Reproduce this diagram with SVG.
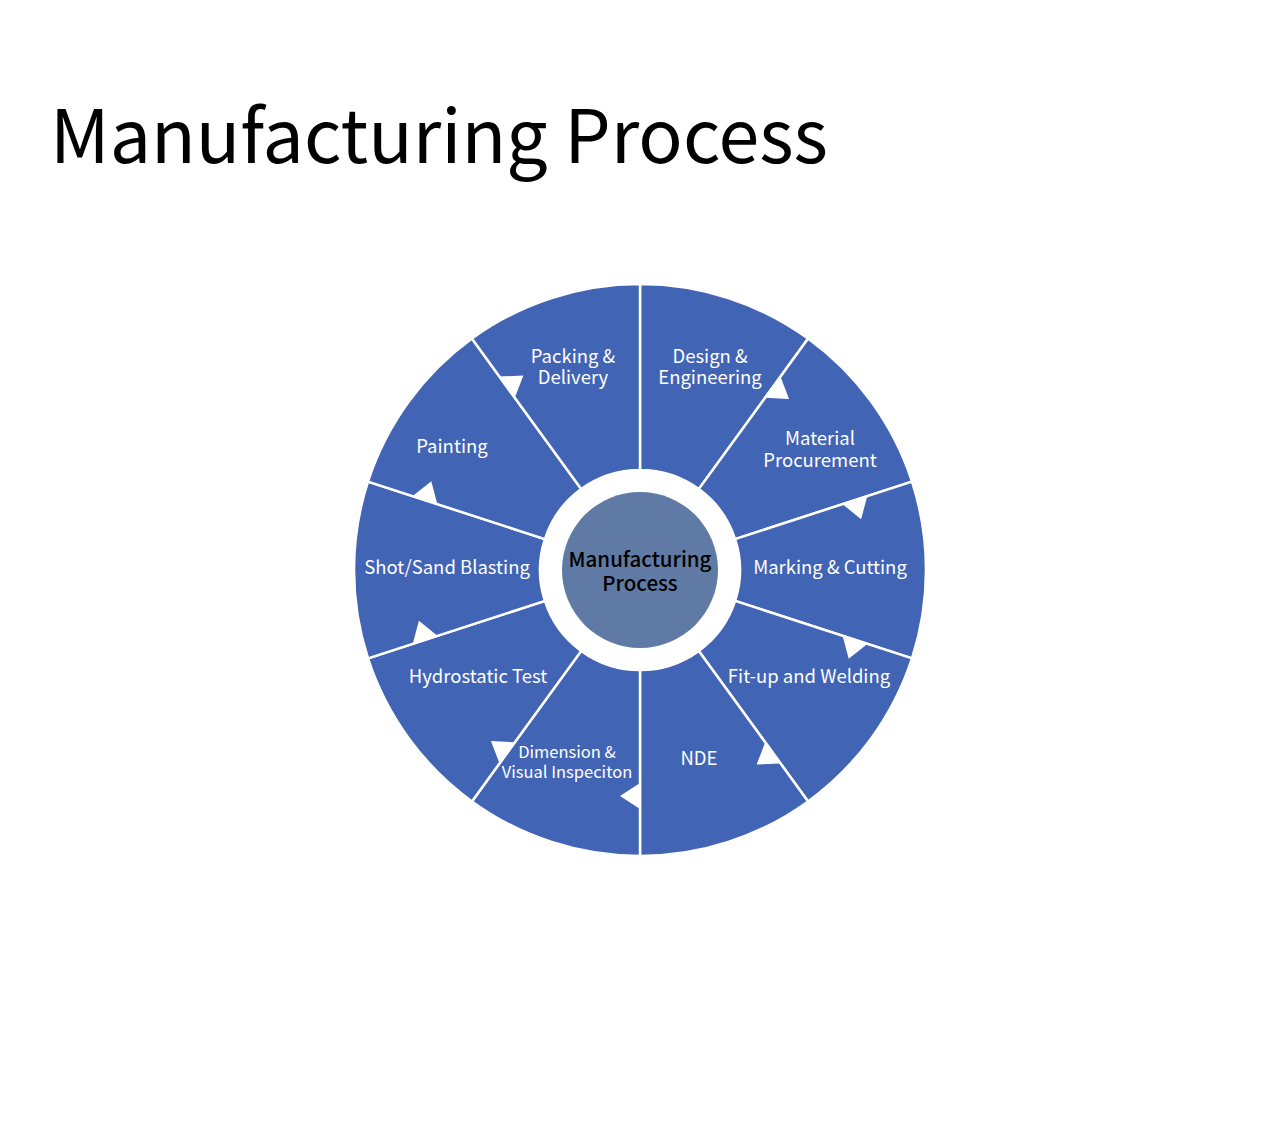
<svg xmlns="http://www.w3.org/2000/svg" width="1280" height="1133" viewBox="0 0 1280 1133">
<style>
.seg{fill:#4264b4;stroke:#ffffff;stroke-width:2.5;stroke-linejoin:miter}
.lbl{font-family:"Noto Sans CJK KR","Noto Sans",sans-serif;font-size:18.5px;fill:#ffffff;text-anchor:middle}
.sm{font-size:16.5px}
.arr{fill:#ffffff}
.title{font-family:"Noto Sans CJK KR","Noto Sans",sans-serif;font-size:74px;fill:#000000}
.ctr{font-family:"Noto Sans CJK KR","Noto Sans",sans-serif;font-size:20.5px;font-weight:500;fill:#000000;text-anchor:middle}
</style>
<rect width="1280" height="1133" fill="#ffffff"/>
<text class="title" x="50" y="163" textLength="778" lengthAdjust="spacingAndGlyphs">Manufacturing Process</text>
<g id="seg-design">
<path class="seg" d="M640,284 A286,286 0 0 1 808.1,338.6 L698.8,489.1 A100,100 0 0 0 640,470 Z"/>
<text class="lbl" x="710" y="363">Design &amp;</text>
<text class="lbl" x="710" y="384">Engineering</text>
</g>
<g id="seg-material">
<path class="seg" d="M808.1,338.6 A286,286 0 0 1 912,481.6 L735.1,539.1 A100,100 0 0 0 698.8,489.1 Z"/>
<text class="lbl" x="820" y="445">Material</text>
<text class="lbl" x="820" y="467">Procurement</text>
</g>
<g id="seg-marking">
<path class="seg" d="M912,481.6 A286,286 0 0 1 912,658.4 L735.1,600.9 A100,100 0 0 0 735.1,539.1 Z"/>
<text class="lbl" x="830" y="574">Marking &amp; Cutting</text>
</g>
<g id="seg-fitup">
<path class="seg" d="M912,658.4 A286,286 0 0 1 808.1,801.4 L698.8,650.9 A100,100 0 0 0 735.1,600.9 Z"/>
<text class="lbl" x="809" y="683">Fit-up and Welding</text>
</g>
<g id="seg-nde">
<path class="seg" d="M808.1,801.4 A286,286 0 0 1 640,856 L640,670 A100,100 0 0 0 698.8,650.9 Z"/>
<text class="lbl" x="699" y="765">NDE</text>
</g>
<g id="seg-dimension">
<path class="seg" d="M640,856 A286,286 0 0 1 471.9,801.4 L581.2,650.9 A100,100 0 0 0 640,670 Z"/>
<text class="lbl sm" x="567" y="758">Dimension &amp;</text>
<text class="lbl sm" x="567" y="778">Visual Inspeciton</text>
</g>
<g id="seg-hydro">
<path class="seg" d="M471.9,801.4 A286,286 0 0 1 368,658.4 L544.9,600.9 A100,100 0 0 0 581.2,650.9 Z"/>
<text class="lbl" x="478" y="683">Hydrostatic Test</text>
</g>
<g id="seg-blasting">
<path class="seg" d="M368,658.4 A286,286 0 0 1 368,481.6 L544.9,539.1 A100,100 0 0 0 544.9,600.9 Z"/>
<text class="lbl" x="447" y="574">Shot/Sand Blasting</text>
</g>
<g id="seg-painting">
<path class="seg" d="M368,481.6 A286,286 0 0 1 471.9,338.6 L581.2,489.1 A100,100 0 0 0 544.9,539.1 Z"/>
<text class="lbl" x="452" y="453">Painting</text>
</g>
<g id="seg-packing">
<path class="seg" d="M471.9,338.6 A286,286 0 0 1 640,284 L640,470 A100,100 0 0 0 581.2,489.1 Z"/>
<text class="lbl" x="573" y="363">Packing &amp;</text>
<text class="lbl" x="573" y="384">Delivery</text>
</g>
<g id="center">
<circle cx="640" cy="570" r="78" fill="#5f7aa4"/>
<text class="ctr" x="640" y="567">Manufacturing</text>
<text class="ctr" x="640" y="591">Process</text>
</g>
<g id="connectors">
<polygon class="arr" points="765.2,397.7 780.5,376.6 789,399"/>
<polygon class="arr" points="842.6,504.2 867.3,496.1 861.1,519.2"/>
<polygon class="arr" points="842.6,635.8 867.3,643.9 848.7,658.8"/>
<polygon class="arr" points="765.2,742.3 780.5,763.4 756.6,764.6"/>
<polygon class="arr" points="640,783 640,809 620,796"/>
<polygon class="arr" points="514.8,742.3 499.5,763.4 491,741"/>
<polygon class="arr" points="437.4,635.8 412.7,643.9 418.9,620.8"/>
<polygon class="arr" points="437.4,504.2 412.7,496.1 431.3,481.2"/>
<polygon class="arr" points="514.8,397.7 499.5,376.6 523.4,375.4"/>
</g>
</svg>
